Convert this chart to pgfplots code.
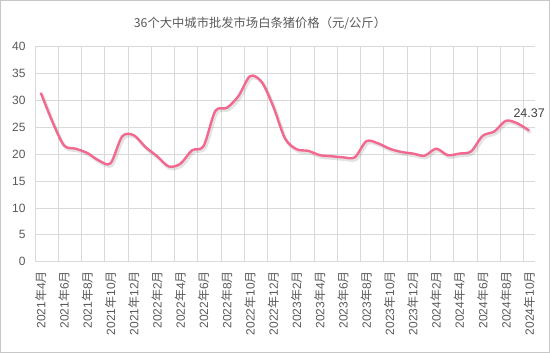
\documentclass[border=0pt]{standalone}
\usepackage{pgfplots}
\usepackage{pgfplotstable}
\pgfplotsset{compat=1.18}
\usepackage{fontspec}
\setmainfont{Liberation Sans}
\newfontfamily\cjk{Noto Sans CJK SC}

\definecolor{linepink}{RGB}{242,104,143}
\definecolor{gridc}{RGB}{217,217,217}
\definecolor{txt}{RGB}{89,89,89}
\definecolor{lbl}{RGB}{64,64,64}

\newcommand{\ym}[2]{#1{\cjk 年}#2{\cjk 月}}

\pgfplotstableread{
i v
0 31.4
1 26.0
2 21.6
3 21.0
4 20.2
5 18.8
6 18.3
7 23.3
8 23.5
9 21.3
10 19.6
11 17.7
12 18.2
13 20.7
14 21.5
15 28.0
16 28.6
17 30.8
18 34.5
19 33.4
20 28.8
21 22.9
22 20.9
23 20.6
24 19.8
25 19.6
26 19.4
27 19.4
28 22.4
29 22.0
30 21.0
31 20.4
32 20.1
33 19.7
34 21.0
35 19.8
36 20.1
37 20.5
38 23.4
39 24.2
40 26.2
41 25.7
42 24.37
}\pricedata

\begin{document}
\begin{tikzpicture}
\useasboundingbox (0pt,0pt) rectangle (550pt,353pt);
\draw[gridc!80!gray, line width=0.8pt] (0.6pt,0.6pt) rectangle (549.4pt,352.4pt);
\node[font=\cjk\fontsize{12.3}{14}\selectfont, text=txt] at (260pt,330pt) {36个大中城市批发市场白条猪价格（元/公斤）};
\begin{axis}[
  at={(35pt,91.3pt)}, anchor=south west,
  scale only axis, width=500pt, height=215.2pt,
  xmin=-0.5, xmax=42.5, ymin=0, ymax=40,
  ytick={0,5,...,40},
  xtick={0,2,...,42},
  xticklabels={\ym{2021}{4},\ym{2021}{6},\ym{2021}{8},\ym{2021}{10},\ym{2021}{12},
    \ym{2022}{2},\ym{2022}{4},\ym{2022}{6},\ym{2022}{8},\ym{2022}{10},\ym{2022}{12},
    \ym{2023}{2},\ym{2023}{4},\ym{2023}{6},\ym{2023}{8},\ym{2023}{10},\ym{2023}{12},
    \ym{2024}{2},\ym{2024}{4},\ym{2024}{6},\ym{2024}{8},\ym{2024}{10}},
  minor xtick={-0.5,1.5,...,41.5},
  xminorgrids, ymajorgrids,
  major grid style={draw=gridc, line width=0.7pt},
  minor grid style={draw=gridc, line width=0.7pt},
  axis line style={draw=none},
  tick style={draw=none},
  major tick length=0pt, minor tick length=0pt,
  /pgf/number format/assume math mode=true,
  yticklabel style={font=\fontsize{12}{13}\selectfont, text=txt},
  yticklabel shift=6pt,
  xticklabel style={rotate=90, anchor=east, font=\fontsize{12}{13}\selectfont, text=txt},
  xticklabel shift=6pt,
  clip=false,
]
\addplot[gray, opacity=0.22, line width=3.2pt, smooth, tension=0.5, xshift=1.5pt, yshift=-2pt] table[x=i,y=v]{\pricedata};
\addplot[linepink, line width=2.4pt, smooth, tension=0.5] table[x=i,y=v]{\pricedata};
\node[font=\fontsize{12.5}{14}\selectfont, text=lbl, anchor=center, yshift=17.5pt] at (axis cs:42,24.37) {24.37};
\end{axis}
\end{tikzpicture}
\end{document}
